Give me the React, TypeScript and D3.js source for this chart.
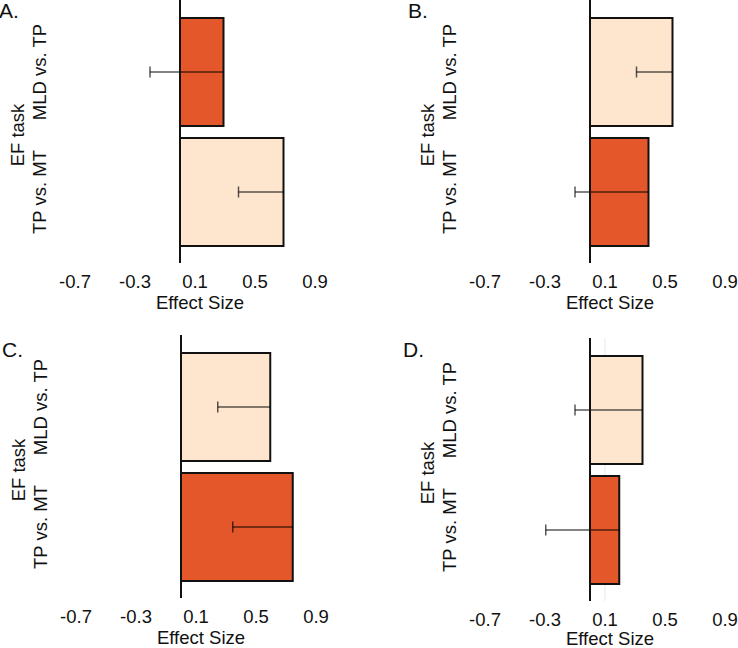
import React from "react";
import * as d3 from "d3";

const categories = ["MLD vs. TP", "TP vs. MT"];
const tickValues = [-0.7, -0.3, 0.1, 0.5, 0.9];
const tickLabels = ["-0.7", "-0.3", "0.1", "0.5", "0.9"];

const panelLetters = ["A.", "B.", "C.", "D."];
// effect size per category, per panel
const valuesA = [0.29, 0.69];
const lowerA = [-0.2, 0.39];
const valuesB = [0.55, 0.39];
const lowerB = [0.31, -0.1];
const valuesC = [0.595, 0.745];
const lowerC = [0.245, 0.345];
const valuesD = [0.35, 0.195];
const lowerD = [-0.1, -0.295];
// which category is highlighted (dark) in each panel
const darkA = [true, false];
const darkB = [false, true];
const darkC = [false, true];
const darkD = [false, true];

const DARK = "#E4572A";
const LIGHT = "#FDE5CE";
const FONT = "'Liberation Sans', Arial, Helvetica, sans-serif";
const FS = 18.5;

type PanelProps = {
  letter: string;
  values: number[];
  lower: number[];
  dark: boolean[];
  ox: number;
  oy: number;
  tickY: number;
  titleY: number;
  letterX: number;
  letterY: number;
  grid?: boolean;
};

function Panel(p: PanelProps) {
  const x = d3.scaleLinear().domain([-0.7, 0.9]).range([75, 315]);
  const y = d3
    .scaleBand<string>()
    .domain(categories)
    .range([12, 252])
    .paddingInner(0.1)
    .paddingOuter(0.05);
  const x0 = x(0);
  return (
    <g transform={`translate(${p.ox},${p.oy})`} fontFamily={FONT}>
      {p.grid && (
        <line x1={x(0.1)} x2={x(0.1)} y1={0} y2={263} stroke="#e8e8e8" strokeWidth={1} />
      )}
      {categories.map((c, i) => {
        const yy = y(c) as number;
        const v = p.values[i];
        const cy = yy + y.bandwidth() / 2;
        return (
          <g key={c}>
            <rect
              x={Math.min(x0, x(v))}
              y={yy}
              width={Math.abs(x(v) - x0)}
              height={y.bandwidth()}
              fill={p.dark[i] ? DARK : LIGHT}
              stroke="#111"
              strokeWidth={2}
            />
            <line
              x1={x(p.lower[i])}
              x2={x(v)}
              y1={cy}
              y2={cy}
              stroke="#000"
              strokeOpacity={0.65}
              strokeWidth={1.5}
            />
            <line
              x1={x(p.lower[i])}
              x2={x(p.lower[i])}
              y1={cy - 5.5}
              y2={cy + 5.5}
              stroke="#000"
              strokeOpacity={0.65}
              strokeWidth={1.5}
            />
            <text
              transform={`translate(46,${cy}) rotate(-90)`}
              textAnchor="middle"
              fontSize={FS}
              fill="#111"
            >
              {c}
            </text>
          </g>
        );
      })}
      <line x1={x0} x2={x0} y1={0} y2={263} stroke="#111" strokeWidth={2} />
      {tickValues.map((t, i) => (
        <text key={t} x={x(t)} y={p.tickY} textAnchor="middle" fontSize={FS} fill="#111">
          {tickLabels[i]}
        </text>
      ))}
      <text x={x(0.1) + 5} y={p.titleY} textAnchor="middle" fontSize={FS} fill="#111">
        Effect Size
      </text>
      <text
        transform={`translate(24,${(y.range()[0] + y.range()[1]) / 2 + 3}) rotate(-90)`}
        textAnchor="middle"
        fontSize={FS}
        fill="#111"
      >
        EF task
      </text>
      <text x={p.letterX} y={p.letterY} fontSize={21} fill="#111">
        {p.letter}
      </text>
    </g>
  );
}

export default function App() {
  return (
    <div style={{ position: "absolute", left: 0, top: 0 }}>
      <svg width={738} height={648} style={{ display: "block", background: "#fff" }}>
        <Panel letter={panelLetters[0]} values={valuesA} lower={lowerA} dark={darkA}
          ox={0} oy={0} tickY={288} titleY={309} letterX={-1} letterY={18} />
        <Panel letter={panelLetters[1]} values={valuesB} lower={lowerB} dark={darkB}
          ox={410} oy={0} tickY={288} titleY={309} letterX={-2} letterY={18} />
        <Panel letter={panelLetters[2]} values={valuesC} lower={lowerC} dark={darkC}
          ox={1} oy={335} tickY={288} titleY={309} letterX={1} letterY={22} />
        <Panel letter={panelLetters[3]} values={valuesD} lower={lowerD} dark={darkD}
          ox={410} oy={338} tickY={288} titleY={307} letterX={-7} letterY={19} grid />
      </svg>
    </div>
  );
}
